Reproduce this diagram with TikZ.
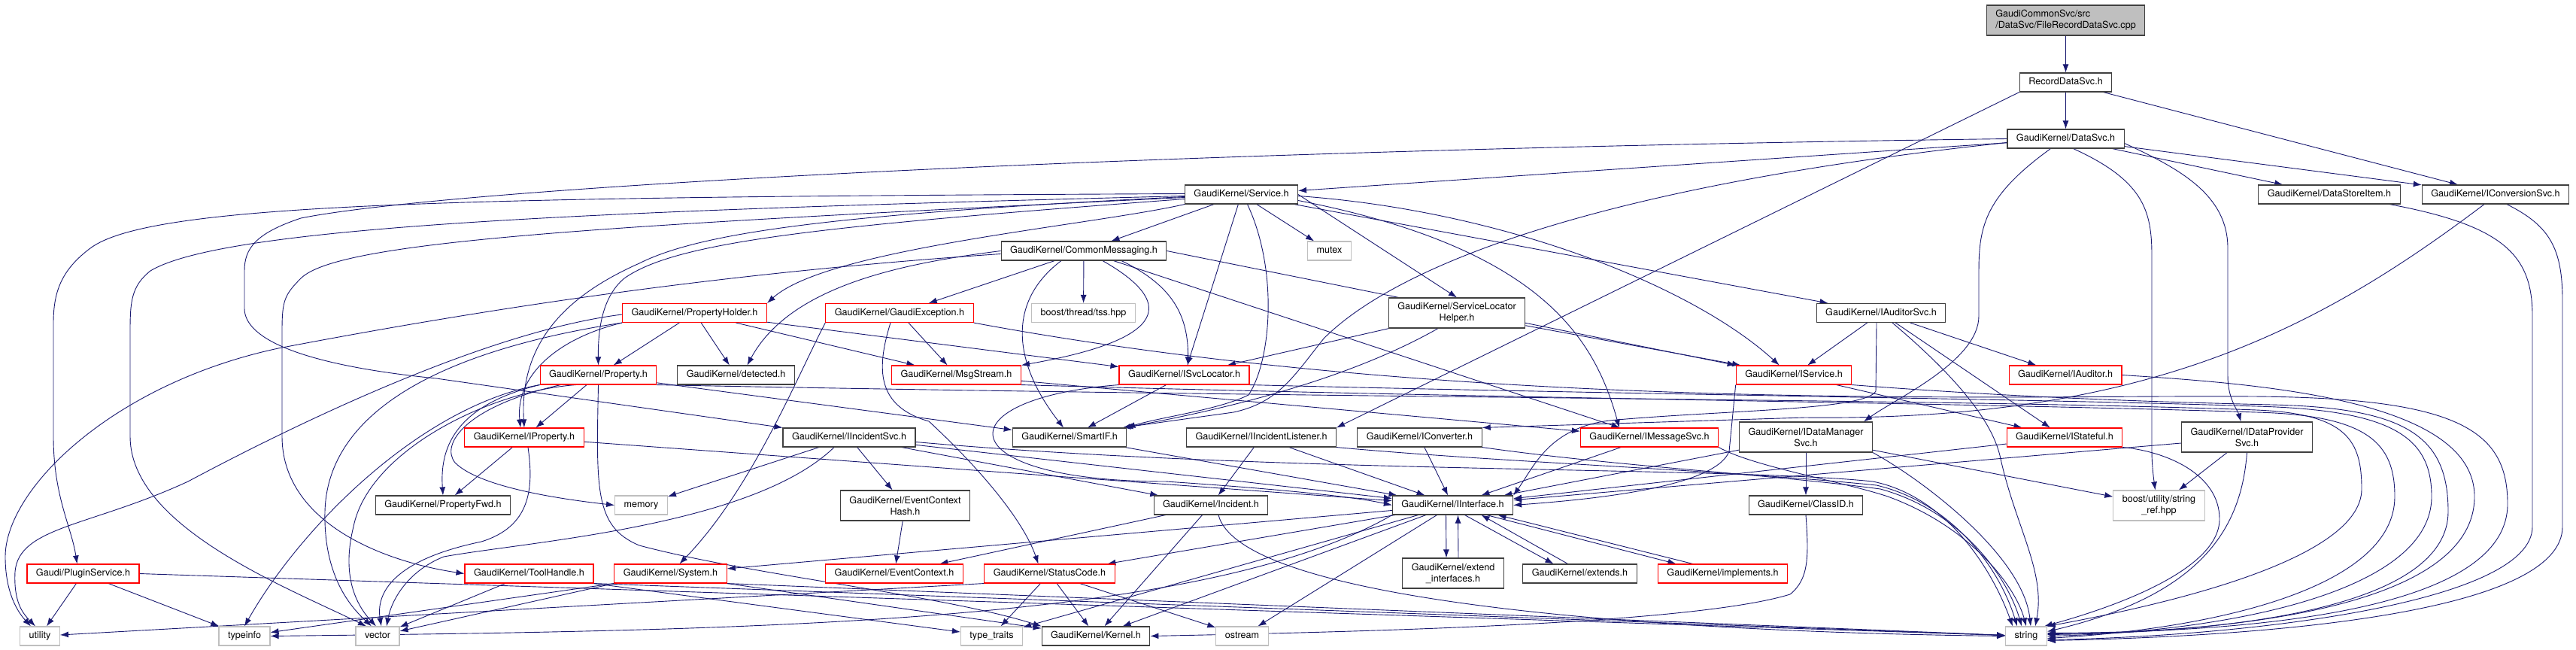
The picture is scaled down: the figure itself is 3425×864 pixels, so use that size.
\documentclass[tikz,border=0pt]{standalone}
\usepackage{fontspec}
\setmainfont{TeX Gyre Heros}
\usetikzlibrary{arrows.meta}
\definecolor{edgeblue}{HTML}{191970}
\definecolor{sysgray}{HTML}{BFBFBF}
\definecolor{boxline}{HTML}{404040}
\pgfdeclarelayer{edges}
\pgfsetlayers{edges,main}
\tikzset{
  hdr/.style={draw=boxline, line width=1.1pt, fill=white, inner xsep=12pt, inner ysep=6.25pt,
    text height=9.5pt, text depth=3pt, align=center, font=\fontsize{12.6}{15}\selectfont},
  hdrred/.style={hdr, draw=red},
  hdrsys/.style={hdr, draw=sysgray},
  twoline/.style={text height={}, text depth={}, minimum height=40pt},
  incl/.style={draw=edgeblue, line width=0.9pt, -{Latex[length=11pt,width=8pt]}}
}
\begin{document}
\begin{tikzpicture}[x=1pt, y=-1pt]
\useasboundingbox (0,0) rectangle (3425,864);
\node[hdr, fill=sysgray, align=left, twoline] (root) at (2746.5,27) {GaudiCommonSvc/src\\/DataSvc/FileRecordDataSvc.cpp};
\node[hdr] (rds) at (2746.5,109.5) {RecordDataSvc.h};
\node[hdr] (dsvc) at (2746.5,184.5) {GaudiKernel/DataSvc.h};
\node[hdr] (svc) at (1650.5,258.5) {GaudiKernel/Service.h};
\node[hdr] (dsi) at (3097,258.5) {GaudiKernel/DataStoreItem.h};
\node[hdr] (convsvc) at (3318,258.5) {GaudiKernel/IConversionSvc.h};
\node[hdr] (cmsg) at (1441,333.5) {GaudiKernel/CommonMessaging.h};
\node[hdrsys] (mutex) at (1767.5,333.5) {mutex};
\node[hdrred] (pholder) at (923.5,416) {GaudiKernel/PropertyHolder.h};
\node[hdrred] (exc) at (1196,416) {GaudiKernel/GaudiException.h};
\node[hdrsys] (tss) at (1440.5,416) {boost/thread/tss.hpp};
\node[hdr, twoline] (slh) at (1937,416) {GaudiKernel/ServiceLocator\\Helper.h};
\node[hdr] (audsvc) at (2501,416) {GaudiKernel/IAuditorSvc.h};
\node[hdrred] (prop) at (795.5,498.5) {GaudiKernel/Property.h};
\node[hdr] (detected) at (978.5,498.5) {GaudiKernel/detected.h};
\node[hdrred] (msgs) at (1271.5,498.5) {GaudiKernel/MsgStream.h};
\node[hdrred] (isvcloc) at (1574.5,498.5) {GaudiKernel/ISvcLocator.h};
\node[hdrred] (iservice) at (2385,498.5) {GaudiKernel/IService.h};
\node[hdrred] (iauditor) at (2746,498.5) {GaudiKernel/IAuditor.h};
\node[hdrred] (iprop) at (697,581.5) {GaudiKernel/IProperty.h};
\node[hdr] (iincsvc) at (1129,581.5) {GaudiKernel/IIncidentSvc.h};
\node[hdr] (smartif) at (1422,581.5) {GaudiKernel/SmartIF.h};
\node[hdr] (iinclis) at (1677,581.5) {GaudiKernel/IIncidentListener.h};
\node[hdr] (iconv) at (1887.5,581.5) {GaudiKernel/IConverter.h};
\node[hdrred] (imsgsvc) at (2193,581.5) {GaudiKernel/IMessageSvc.h};
\node[hdr, twoline] (idms) at (2401,581) {GaudiKernel/IDataManager\\Svc.h};
\node[hdrred] (istateful) at (2745,581.5) {GaudiKernel/IStateful.h};
\node[hdr, twoline] (idps) at (2987.5,581) {GaudiKernel/IDataProvider\\Svc.h};
\node[hdr] (propfwd) at (589,671.5) {GaudiKernel/PropertyFwd.h};
\node[hdrsys] (memory) at (852.5,671.5) {memory};
\node[hdr, twoline] (evhash) at (1203.5,672) {GaudiKernel/EventContext\\Hash.h};
\node[hdr] (incident) at (1610,671.5) {GaudiKernel/Incident.h};
\node[hdr] (iif) at (1931.5,671.5) {GaudiKernel/IInterface.h};
\node[hdr] (classid) at (2401,671.5) {GaudiKernel/ClassID.h};
\node[hdrsys, twoline] (strref) at (2870.5,672) {boost/utility/string\\\_ref.hpp};
\node[hdrred] (plugin) at (110.5,762.5) {Gaudi/PluginService.h};
\node[hdrred] (toolh) at (703.5,762.5) {GaudiKernel/ToolHandle.h};
\node[hdrred] (system) at (891.5,762.5) {GaudiKernel/System.h};
\node[hdrred] (evctx) at (1189,762.5) {GaudiKernel/EventContext.h};
\node[hdrred] (status) at (1395.5,762.5) {GaudiKernel/StatusCode.h};
\node[hdr, twoline] (extif) at (1932,762) {GaudiKernel/extend\\\_interfaces.h};
\node[hdr] (extends) at (2100.5,762.5) {GaudiKernel/extends.h};
\node[hdrred] (implem) at (2290.5,762.5) {GaudiKernel/implements.h};
\node[hdrsys] (utility) at (53,845.5) {utility};
\node[hdrsys] (typeinfo) at (325,845.5) {typeinfo};
\node[hdrsys] (vector) at (502,845.5) {vector};
\node[hdrsys] (ttraits) at (1318.5,845.5) {type\_traits};
\node[hdr] (kernel) at (1457,845.5) {GaudiKernel/Kernel.h};
\node[hdrsys] (ostream) at (1651.5,845.5) {ostream};
\node[hdrsys] (string) at (2694,845.5) {string};

\begin{pgfonlayer}{edges}
\foreach \a/\b in {root/rds, rds/dsvc, rds/convsvc, dsvc/svc, dsvc/dsi, dsvc/convsvc,
  svc/cmsg, svc/mutex, svc/audsvc, svc/isvcloc, cmsg/exc, cmsg/tss, cmsg/imsgsvc,
  slh/isvcloc, slh/iservice, audsvc/iservice, audsvc/iauditor, audsvc/istateful,
  pholder/prop, pholder/detected, pholder/msgs, pholder/isvcloc,
  exc/msgs, prop/iprop, prop/smartif, iprop/propfwd, iprop/iif, msgs/imsgsvc,
  isvcloc/smartif, iservice/istateful, istateful/iif,
  iincsvc/iif, iincsvc/incident, iincsvc/evhash, iincsvc/memory,
  smartif/iif, iinclis/iif, iinclis/incident, iconv/iif, imsgsvc/iif,
  idms/classid, idms/iif, idms/strref, idps/strref,
  incident/kernel, incident/evctx, evhash/evctx,
  iif/ostream, iif/kernel, iif/status, iif/system, iif/ttraits,
  status/ttraits, status/kernel, status/ostream,
  toolh/vector, plugin/utility, plugin/typeinfo}
  \draw[incl] (\a) -- (\b);

\draw[incl] (rds.south west) -- (iinclis.north east);
\draw[incl] (svc.east) -- (slh.north);
\draw[incl] (cmsg.east) -- (iservice.north west);
\draw[incl] ([yshift=-8pt]idps.west) -- (iif);
\draw[incl] ([xshift=-9pt]iif.south) -- ([xshift=-9pt]extif.north);
\draw[incl] ([xshift=7pt]extif.north) -- ([xshift=7pt]iif.south);
\draw[incl] ([xshift=16pt]iif.south) -- ([xshift=-35pt]extends.north);
\draw[incl] ([xshift=-16pt]extends.north) -- ([xshift=38pt]iif.south);
\draw[incl] ([xshift=45pt]iif.south) -- ([xshift=-62pt]implem.north);
\draw[incl] ([xshift=-40pt]implem.north) -- ([xshift=60pt]iif.south);
\draw[incl] (system.south west) -- (vector);
\draw[incl] (system.south west) -- (typeinfo);
\draw[incl] (system.south east) -- (kernel);
\draw[incl] (system.south east) -- (string);
\draw[incl] (toolh.south east) -- (string);
\draw[incl] (toolh.south east) -- (ttraits);
\draw[incl] (plugin.east) -- (string);
\draw[incl] (status.south west) -- (utility);

\draw[incl] ([xshift=-15pt]convsvc.south) .. controls (3080,440) and (2850,560) .. (2400,555) -- (iconv.north east);
\draw[incl] ([yshift=-5pt]dsvc.west) .. controls (2100,250) and (1850,360) .. (1760,450) .. controls (1720,500) and (1700,535) .. (1640,548) -- ([xshift=-6pt]smartif.north east);
\draw[incl] ([xshift=8pt]svc.south) .. controls (1700,360) and (1690,480) .. (1660,525) .. controls (1620,545) and (1540,555) .. (smartif.north east);
\draw[incl] ([xshift=-25pt]slh.south) .. controls (1800,500) and (1650,540) .. ([xshift=-3pt]smartif.north east);
\draw[incl] ([xshift=-20pt]dsvc.south) .. controls (2640,260) and (2631,300) .. (2631,360) -- (2631,420) .. controls (2631,480) and (2520,530) .. ([xshift=-12pt]idms.north east);
\draw[incl] ([xshift=10pt]dsvc.south) .. controls (2850,240) and (2861,280) .. (2861,340) -- (2861,600) .. controls (2861,620) and (2864,640) .. ([xshift=-5pt]strref.north);
\draw[incl] ([yshift=-6pt]dsvc.east) .. controls (2900,225) and (2962,260) .. (2962,330) -- (2962,500) .. controls (2962,530) and (2975,545) .. ([xshift=-8pt]idps.north);
\draw[incl] ([xshift=80pt]dsi.south) .. controls (3330,300) and (3367,340) .. (3367,420) -- (3367,700) .. controls (3367,800) and (3000,845) .. ([yshift=-5pt]string.east);
\draw[incl] ([xshift=15pt]convsvc.south) .. controls (3390,300) and (3407,330) .. (3407,400) -- (3407,700) .. controls (3407,810) and (3050,845) .. ([yshift=-6pt]string.east);
\draw[incl] (exc.south east) .. controls (2000,560) and (2800,520) .. (3050,528) .. controls (3280,535) and (3334,580) .. (3334,670) .. controls (3334,800) and (3050,840) .. ([yshift=4pt]string.east);
\draw[incl] (iauditor.east) .. controls (3000,510) and (3290,530) .. (3290,660) .. controls (3290,800) and (3000,840) .. ([yshift=3pt]string.east);
\draw[incl] (iservice.south east) .. controls (2700,530) and (2900,535) .. (3020,538) .. controls (3200,542) and (3255,580) .. (3255,680) .. controls (3255,800) and (3000,840) .. ([yshift=2pt]string.east);
\draw[incl] (isvcloc.south east) .. controls (2200,525) and (2700,530) .. (3000,540) .. controls (3180,545) and (3233,580) .. (3233,660) .. controls (3233,790) and (2950,840) .. (string.east);
\draw[incl] (msgs.south east) .. controls (2000,530) and (2600,535) .. (3000,548) .. controls (3150,552) and (3184,590) .. (3184,660) .. controls (3184,780) and (2950,835) .. ([yshift=-3pt]string.east);
\draw[incl] (prop.south east) .. controls (1800,530) and (2600,530) .. (3000,545) .. controls (3120,550) and (3140,585) .. (3140,650) .. controls (3140,740) and (2900,800) .. (string.north east);
\draw[incl] (istateful.south east) .. controls (2880,600) and (2951,630) .. (2951,690) .. controls (2951,760) and (2800,810) .. ([xshift=-4pt]string.north east);
\draw[incl] (idps.south) .. controls (2980,700) and (2930,790) .. ([yshift=6pt]string.east);

\draw[incl] ([yshift=1pt]svc.west) .. controls (600,262) and (200,270) .. (120,330) .. controls (80,360) and (71,390) .. (71,430) -- (71,580) .. controls (71,660) and (95,700) .. ([xshift=-8pt]plugin.north);
\draw[incl] ([yshift=-2pt]svc.west) .. controls (800,280) and (300,300) .. (200,360) .. controls (175,380) and (173,400) .. (173,440) -- (173,580) .. controls (173,700) and (380,780) .. ([xshift=-15pt]vector.north);
\draw[incl] ([yshift=-4pt]svc.west) .. controls (800,300) and (450,320) .. (400,370) .. controls (378,392) and (375,400) .. (375,440) -- (375,580) .. controls (375,690) and (500,745) .. (toolh.west);
\draw[incl] (dsvc.west) .. controls (1500,200) and (600,250) .. (400,290) .. controls (340,310) and (325,330) .. (325,360) -- (325,410) .. controls (325,450) and (400,485) .. (580,503) -- (iincsvc.north west);
\draw[incl] ([yshift=-4pt]cmsg.west) .. controls (1000,360) and (700,400) .. (370,463) .. controls (150,510) and (7,650) .. (7,740) .. controls (7,790) and (25,815) .. ([xshift=-12pt]utility.north);
\draw[incl] ([yshift=-2pt]pholder.west) .. controls (650,440) and (400,560) .. (250,640) .. controls (120,700) and (25,700) .. (20,760) .. controls (18,800) and (30,815) .. ([xshift=-6pt]utility.north);
\draw[incl] ([yshift=-3pt]svc.west) .. controls (1100,285) and (930,310) .. (850,350) .. controls (760,390) and (690,450) .. (iprop.north);
\draw[incl] ([yshift=-6pt]svc.west) .. controls (1100,300) and (900,320) .. (830,370) .. controls (800,395) and (795,440) .. (prop.north);
\draw[incl] (svc.south west) .. controls (1450,300) and (1100,330) .. (pholder.north east);
\draw[incl] ([yshift=-2pt]svc.east) .. controls (2000,280) and (2250,380) .. ([xshift=58pt]iservice.north west);
\draw[incl] ([yshift=-8pt]svc.east) .. controls (2050,330) and (2120,450) .. ([xshift=-40pt]imsgsvc.north);

\draw[incl] (cmsg.west) .. controls (1200,350) and (1050,380) .. ([xshift=15pt]detected.north);
\draw[incl] ([xshift=25pt]cmsg.south) .. controls (1560,400) and (1560,450) .. (msgs.north east);
\draw[incl] ([xshift=-30pt]cmsg.south) .. controls (1340,400) and (1345,480) .. ([xshift=-8pt]smartif.north);
\draw[incl] ([xshift=50pt]cmsg.south) .. controls (1560,380) and (1580,420) .. ([xshift=5pt]isvcloc.north);
\draw[incl] ([xshift=-12pt]exc.south) .. controls (1165,490) and (1165,540) .. (1235,560) .. controls (1300,620) and (1360,690) .. ([xshift=-15pt]status.north);
\draw[incl] (exc.south west) .. controls (1060,500) and (1000,650) .. ([xshift=12pt]system.north);
\draw[incl] (pholder.south west) .. controls (740,450) and (685,500) .. ([xshift=-5pt]iprop.north);
\draw[incl] (isvcloc.south west) .. controls (1250,530) and (1260,640) .. (1550,640) .. controls (1700,650) and (1800,660) .. (iif.west);
\draw[incl] (iservice.south west) -- (2299,600) .. controls (2280,650) and (2100,665) .. (iif.east);
\draw[incl] ([xshift=-6pt]audsvc.south) -- (2494,520) .. controls (2480,545) and (2300,545) .. (2150,558) .. controls (2060,565) and (2040,620) .. (iif.north east);

\draw[incl] (prop.south) .. controls (793,650) and (790,700) .. (850,725) .. controls (1000,765) and (1250,790) .. (kernel.north west);
\draw[incl] (prop.south west) .. controls (600,540) and (585,600) .. (propfwd.north);
\draw[incl] (prop.south west) .. controls (560,540) and (400,700) .. (typeinfo.north);
\draw[incl] ([xshift=-50pt]prop.south) .. controls (620,540) and (585,590) .. (605,615) .. controls (640,650) and (760,665) .. (memory.west);
\draw[incl] ([xshift=-30pt]prop.south) .. controls (650,520) and (490,600) .. (470,700) .. controls (455,760) and (470,800) .. ([xshift=-2pt]vector.north);
\draw[incl] ([xshift=5pt]iprop.south) .. controls (710,650) and (705,700) .. (640,720) .. controls (520,745) and (500,790) .. ([xshift=5pt]vector.north);
\draw[incl] (pholder.south west) .. controls (560,470) and (435,560) .. (432,680) .. controls (430,770) and (470,810) .. ([xshift=-8pt]vector.north);
\draw[incl] ([xshift=-20pt]iincsvc.south) .. controls (1000,700) and (700,720) .. (590,740) .. controls (540,760) and (520,800) .. ([xshift=12pt]vector.north);
\draw[incl] (iif.south west) .. controls (1600,830) and (1000,838) .. (typeinfo.east);
\draw[incl] (classid.south) .. controls (2405,740) and (2405,770) .. (2380,790) .. controls (2250,830) and (1800,840) .. (kernel.east);

\draw[incl] ([yshift=-6pt]iincsvc.east) .. controls (1700,630) and (2300,620) .. (2490,640) .. controls (2590,660) and (2650,760) .. ([xshift=-18pt]string.north);
\draw[incl] (iinclis.south east) .. controls (2000,615) and (2300,625) .. (2495,645) .. controls (2600,670) and (2660,760) .. ([xshift=-12pt]string.north);
\draw[incl] (iconv.south east) .. controls (2150,620) and (2350,630) .. (2500,650) .. controls (2610,680) and (2670,770) .. ([xshift=-6pt]string.north);
\draw[incl] (imsgsvc.south east) .. controls (2330,620) and (2450,640) .. (2510,660) .. controls (2620,700) and (2680,780) .. (string.north);
\draw[incl] (idms.south east) .. controls (2560,640) and (2690,740) .. ([xshift=6pt]string.north);
\draw[incl] ([xshift=15pt]audsvc.south) .. controls (2600,500) and (2650,560) .. (2660,610) .. controls (2680,700) and (2720,760) .. ([xshift=12pt]string.north);
\draw[incl] ([xshift=10pt]incident.south) .. controls (1650,800) and (2200,840) .. (string.west);
\end{pgfonlayer}
\end{tikzpicture}
\end{document}
